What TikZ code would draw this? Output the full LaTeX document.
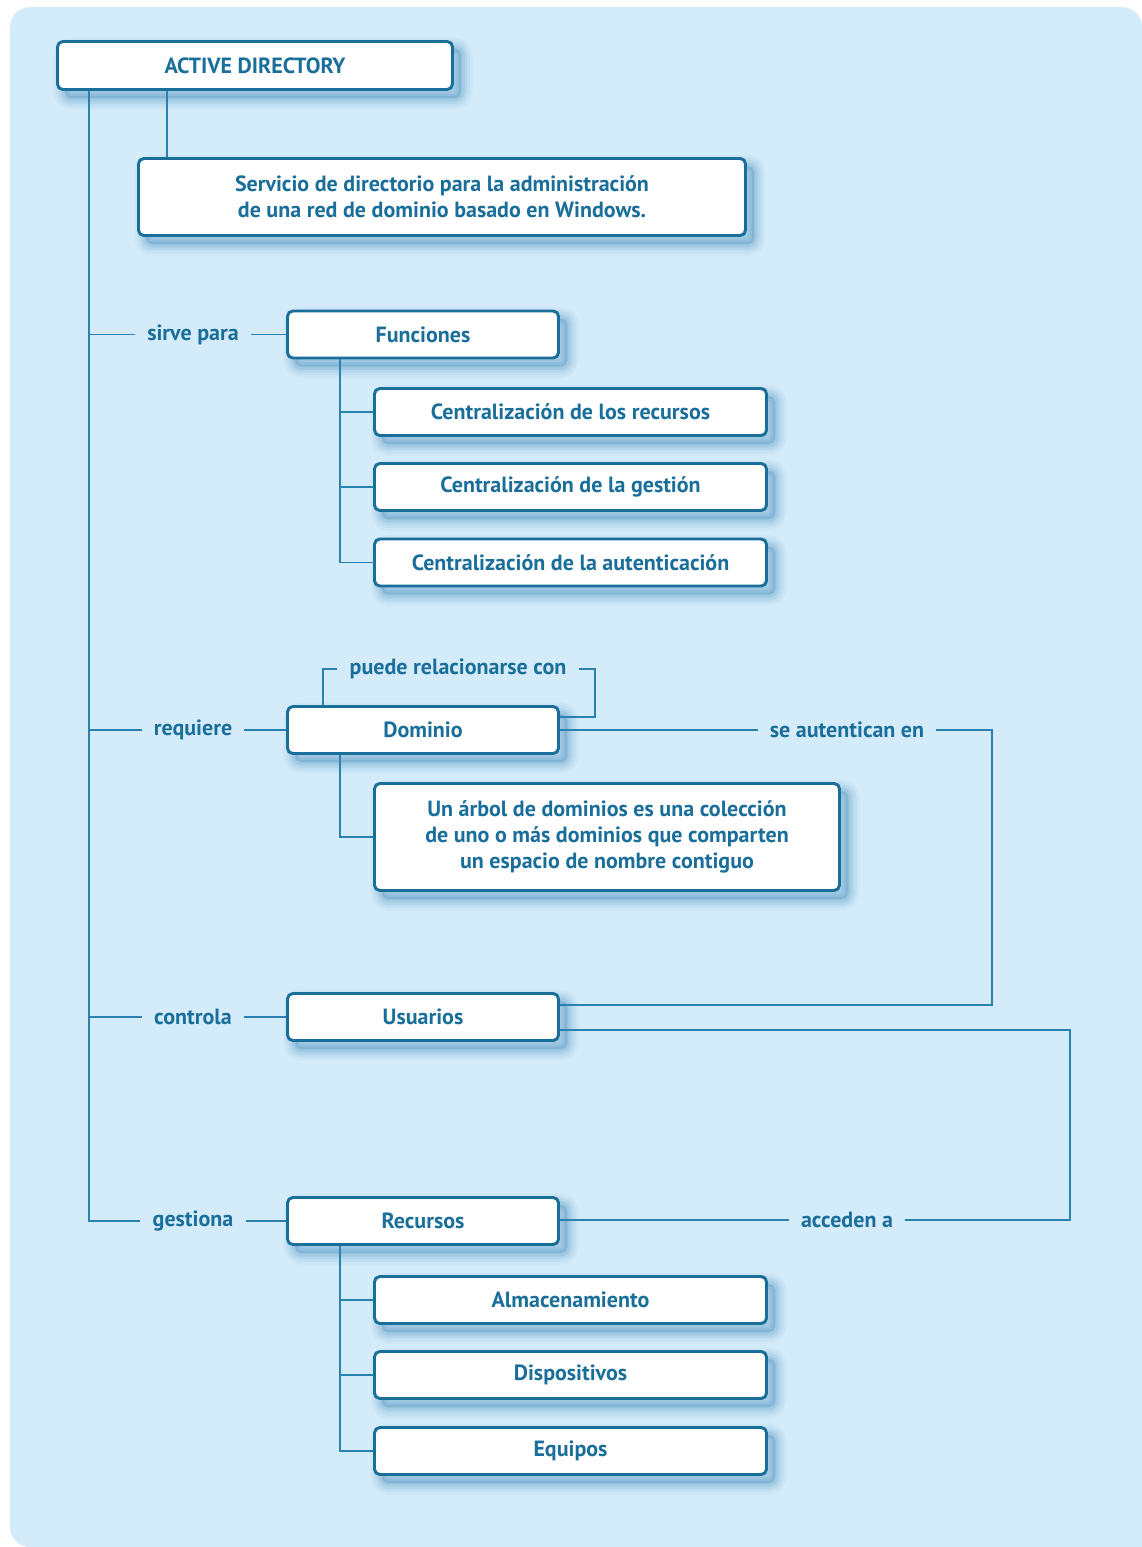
\documentclass[tikz,border=0pt]{standalone}
\usepackage{fontspec}
\setmainfont{PT Sans}

\definecolor{adblue}{HTML}{1A6E9A}
\definecolor{adline}{HTML}{2A82B2}
\definecolor{adback}{HTML}{D4EBFA}
\definecolor{adshade}{HTML}{1E70A8}

\tikzset{
  shade/.style={
    preaction={draw=adshade, line width=18pt, line join=round, draw opacity=.04,
      transform canvas={shift={(6pt,-6pt)}}},
    preaction={draw=adshade, line width=14pt, line join=round, draw opacity=.06,
      transform canvas={shift={(6pt,-6pt)}}},
    preaction={draw=adshade, line width=10pt, line join=round, draw opacity=.08,
      transform canvas={shift={(6pt,-6pt)}}},
    preaction={draw=adshade, line width=6pt, line join=round, draw opacity=.1,
      transform canvas={shift={(6pt,-6pt)}}},
    preaction={draw=adshade, line width=2pt, line join=round, draw opacity=.12,
      transform canvas={shift={(6pt,-6pt)}}},
    preaction={fill=adshade, fill opacity=.15,
      transform canvas={shift={(6pt,-6pt)}}}},
  box/.style={draw=adblue, line width=2.2pt, fill=white, rounded corners=4pt,
    text=adblue, font=\bfseries\fontsize{16.5}{19.5}\selectfont, align=center, inner sep=0pt,
    shade},
  mainbox/.style={box, minimum width=203.25pt, minimum height=35.25pt},
  subbox/.style={box, minimum width=294pt, minimum height=35.25pt},
  lbl/.style={text=adblue, font=\bfseries\fontsize{16.5}{19.5}\selectfont, inner xsep=9pt, inner ysep=0pt},
  conn/.style={draw=adline, line width=1.1pt}
}

\begin{document}
\begin{tikzpicture}[x=0.75pt,y=-0.75pt]

  \useasboundingbox (0,0) rectangle (1142,1547);

  % Background panel
  \fill[adback, rounded corners=15pt] (1142,1565) -- (1142,7) -- (10,7) -- (10,1547)
    -- (1165,1547) -- (1165,1565) -- cycle;

  % Boxes
  \node[box, minimum width=296.25pt, minimum height=36pt] (ad) at (255,65.5) {ACTIVE DIRECTORY};
  \node[box, minimum width=455.25pt, minimum height=57.75pt] (serv) at (442,197)
    {Servicio de directorio para la administración\\de una red de dominio basado en Windows.};

  \node[mainbox] (func) at (423,334.5) {Funciones};
  \node[mainbox] (dom) at (423,730) {Dominio};
  \node[mainbox] (usr) at (423,1017) {Usuarios};
  \node[mainbox] (rec) at (423,1221) {Recursos};

  \node[subbox] (c1) at (570.5,412) {Centralización de los recursos};
  \node[subbox] (c2) at (570.5,487) {Centralización de la gestión};
  \node[subbox] (c3) at (570.5,562.5) {Centralización de la autenticación};

  \node[box, minimum width=348.75pt, minimum height=80.25pt] (arbol) at (607,837)
    {Un árbol de dominios es una colección\\de uno o más dominios que comparten\\un espacio de nombre contiguo};

  \node[subbox] (alm) at (570.5,1300) {Almacenamiento};
  \node[subbox] (disp) at (570.5,1375) {Dispositivos};
  \node[subbox] (equi) at (570.5,1451) {Equipos};

  % Labels
  \node[lbl] (lsirve) at (193,334.5) {sirve para};
  \node[lbl] (lreq) at (193,730) {requiere};
  \node[lbl] (lcont) at (193,1017) {controla};
  \node[lbl] (lgest) at (193,1221) {gestiona};
  \node[lbl] (lpuede) at (458,669) {puede relacionarse con};
  \node[lbl] (laut) at (847,730) {se autentican en};
  \node[lbl] (lacc) at (847,1220) {acceden a};

  % Trunk and its branches
  \coordinate (trunk) at (89,0);
  \draw[conn] (ad.south -| trunk) |- (lgest.west);
  \foreach \l in {lsirve,lreq,lcont}
    \draw[conn] (trunk |- \l) -- (\l.west);
  \foreach \l/\n in {lsirve/func,lreq/dom,lcont/usr,lgest/rec}
    \draw[conn] (\l.east) -- (\l.east -| \n.west);

  \coordinate (desc) at (167,0);
  \draw[conn] (ad.south -| desc) -- (serv.north -| desc);

  % Sub branches
  \coordinate (sub) at (340,0);
  \foreach \n in {c1,c2,c3}
    \draw[conn] (func.south -| sub) |- (\n.west);
  \draw[conn] (dom.south -| sub) |- (arbol.west);
  \foreach \n in {alm,disp,equi}
    \draw[conn] (rec.south -| sub) |- (\n.west);

  % Dominio loop
  \coordinate (pl) at (323,0);
  \coordinate (pr) at (595,717);
  \draw[conn] (dom.north -| pl) |- (lpuede.west);
  \draw[conn] (lpuede.east) -| (pr) -- (pr -| dom.east);

  % Usuarios to Dominio
  \coordinate (ar) at (992,1005);
  \draw[conn] (dom.east) -- (laut.west);
  \draw[conn] (laut.east) -| (ar) -- (ar -| usr.east);

  % Usuarios to Recursos
  \coordinate (cr) at (1070,1030);
  \draw[conn] (usr.east |- cr) -- (cr) |- (lacc.east);
  \draw[conn] (lacc.west) -- (lacc.west -| rec.east);

\end{tikzpicture}
\end{document}
